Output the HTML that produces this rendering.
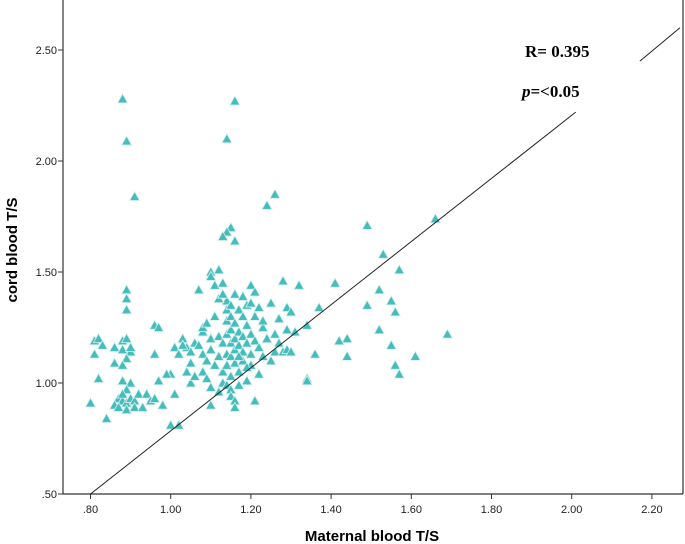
<!DOCTYPE html>
<html><head><meta charset="utf-8"><style>
html,body{margin:0;padding:0;background:#fff;width:685px;height:544px;overflow:hidden}
svg{display:block}
</style></head><body>
<svg id="chart" width="685" height="544" font-family="'Liberation Sans', sans-serif">
<g id="axes"></g><g id="marks"></g>
<text x="525" y="57" font-family="'Liberation Serif', serif" font-weight="bold" font-size="17">R= 0.395</text>
<text x="522" y="97" font-family="'Liberation Serif', serif" font-weight="bold" font-size="17"><tspan font-style="italic">p</tspan>=&lt;0.05</text>
<text x="372" y="541" text-anchor="middle" font-weight="bold" font-size="15">Maternal blood T/S</text>
<text transform="translate(17,250) rotate(-90)" text-anchor="middle" font-weight="bold" font-size="15">cord blood T/S</text>
</svg>
<script>
const xTicks=[0.8,1.0,1.2,1.4,1.6,1.8,2.0,2.2];
const xTickLabels=[".80","1.00","1.20","1.40","1.60","1.80","2.00","2.20"];
const yTicks=[0.5,1.0,1.5,2.0,2.5];
const yTickLabels=[".50","1.00","1.50","2.00","2.50"];
const fitLine=[[0.8,0.5],[2.01,2.22],[2.17,2.45],[2.27,2.60]];
const maternal=[0.88,0.89,0.91,1.16,1.14,1.26,1.24,1.15,1.14,1.13,1.16,1.49,1.66,1.53,1.57,1.52,1.55,1.49,1.56,1.41,1.37,1.52,1.55,1.44,1.42,1.44,1.36,1.34,1.34,1.56,1.57,1.61,1.69,
0.80,0.81,0.82,0.81,0.83,0.82,0.84,0.86,0.86,0.88,0.89,0.89,0.89,0.89,0.88,0.90,0.89,0.88,0.90,0.88,0.90,0.89,0.87,0.88,0.86,0.87,0.89,0.90,0.91,0.89,0.88,0.92,0.91,
0.94,0.93,0.95,0.96,0.97,0.96,0.97,0.98,0.96,1.00,1.01,0.99,1.00,1.02,1.01,1.02,1.03,1.04,1.04,1.05,1.05,1.06,1.07,1.08,1.08,1.07,1.08,1.08,1.09,1.09,1.10,1.10,1.11,1.11,1.10,1.10,1.11,1.10,1.10,1.12,1.12,1.12,1.12,1.13,1.13,1.13,1.13,1.14,1.14,1.14,1.14,1.14,1.14,1.14,1.15,1.15,1.15,1.15,1.15,1.15,1.15,1.15,1.16,1.16,1.16,1.16,1.16,1.16,1.16,1.17,1.17,1.17,1.17,1.17,1.18,1.18,1.18,1.18,1.19,1.19,1.19,1.19,1.20,1.20,1.20,1.20,1.20,1.21,1.21,1.21,1.22,1.22,1.23,1.23,1.24,1.25,1.25,1.26,1.26,1.27,1.27,1.28,1.28,1.29,1.29,1.29,1.30,1.30,1.31,1.34,1.32,1.12,1.06,1.05,1.03,1.09,1.13,1.18,1.21,1.23,1.17,1.19,1.22];
const cord=[2.28,2.09,1.84,2.27,2.10,1.85,1.80,1.70,1.68,1.66,1.64,1.71,1.74,1.58,1.51,1.42,1.37,1.35,1.32,1.45,1.34,1.24,1.17,1.20,1.19,1.12,1.13,1.02,1.01,1.08,1.04,1.12,1.22,
0.91,1.19,1.20,1.13,1.17,1.02,0.84,1.16,1.09,1.19,1.42,1.38,1.33,1.20,1.15,1.14,1.11,1.08,1.16,1.01,1.00,0.97,0.93,0.92,0.90,0.89,0.91,0.93,0.92,0.88,0.95,0.95,0.89,
0.95,0.89,0.92,1.26,1.25,1.13,1.01,0.90,0.93,1.04,0.95,1.04,0.81,0.81,1.16,1.13,1.20,1.16,1.05,1.09,1.00,1.18,1.42,1.23,1.25,1.17,1.13,1.05,1.10,1.02,1.50,1.48,1.44,1.30,1.20,1.15,1.08,0.98,0.90,1.51,1.21,1.12,0.96,1.45,1.18,1.05,1.00,1.37,1.33,1.28,1.22,1.13,1.08,0.99,1.35,1.30,1.24,1.18,1.12,1.03,0.97,0.94,1.40,1.27,1.20,1.15,1.09,0.92,0.89,1.33,1.23,1.17,1.05,0.99,1.30,1.21,1.14,1.10,1.35,1.26,1.18,1.01,1.44,1.36,1.22,1.13,1.08,1.30,1.19,0.92,1.34,1.16,1.25,1.12,1.20,1.36,1.10,1.22,1.14,1.29,1.18,1.46,1.14,1.34,1.24,1.15,1.32,1.14,1.23,1.26,1.44,1.38,1.03,1.14,1.17,1.27,1.40,1.39,1.41,1.28,1.12,1.07,1.04];
const NS="http://www.w3.org/2000/svg";
const X0=63,X1=683,Y0=494,Y1=0;
function sx(v){return 90.5+(v-0.8)*401;}
function sy(v){return 494-(v-0.5)*222;}
function mk(tag,attrs,parent){const e=document.createElementNS(NS,tag);for(const k in attrs)e.setAttribute(k,attrs[k]);parent.appendChild(e);return e;}
const axes=document.getElementById('axes'),marks=document.getElementById('marks');
let e=mk('line',{x1:X0,y1:Y0,x2:X0,y2:Y1,stroke:'#333','stroke-width':1.2},axes);


e=mk('line',{x1:X0,y1:Y0,x2:X1,y2:Y0,stroke:'#333','stroke-width':1.2},axes);


e=mk('line',{x1:X1,y1:Y0,x2:X1,y2:Y1,stroke:'#333','stroke-width':1.2},axes);


xTicks.forEach((t,i)=>{const x=sx(t);
 mk('line',{x1:x,y1:Y0,x2:x,y2:Y0+5,stroke:'#333'},axes);
 const tx=mk('text',{x:x,y:Y0+19,'text-anchor':'middle','font-size':11,fill:'#222'},axes);tx.textContent=xTickLabels[i];
 
 });
yTicks.forEach((t,i)=>{const y=sy(t);
 mk('line',{x1:X0-5,y1:y,x2:X0,y2:y,stroke:'#333'},axes);
 const tx=mk('text',{x:X0-6,y:y+4,'text-anchor':'end','font-size':11,fill:'#222'},axes);tx.textContent=yTickLabels[i];
 
 });
for(let i=0;i<maternal.length;i++){const x=sx(maternal[i]),y=sy(cord[i]);
 const p=mk('polygon',{points:`${x},${y-5} ${x-5},${y+4} ${x+5},${y+4}`,fill:'#45bdbd',stroke:'#d8f0f0','stroke-width':0.8},marks);
 
 }
[[0,1],[2,3]].forEach(([a,b])=>{const l=mk('line',{x1:sx(fitLine[a][0]),y1:sy(fitLine[a][1]),x2:sx(fitLine[b][0]),y2:sy(fitLine[b][1]),stroke:'#222','stroke-width':1},marks);
 
 });
</script>
</body></html>
